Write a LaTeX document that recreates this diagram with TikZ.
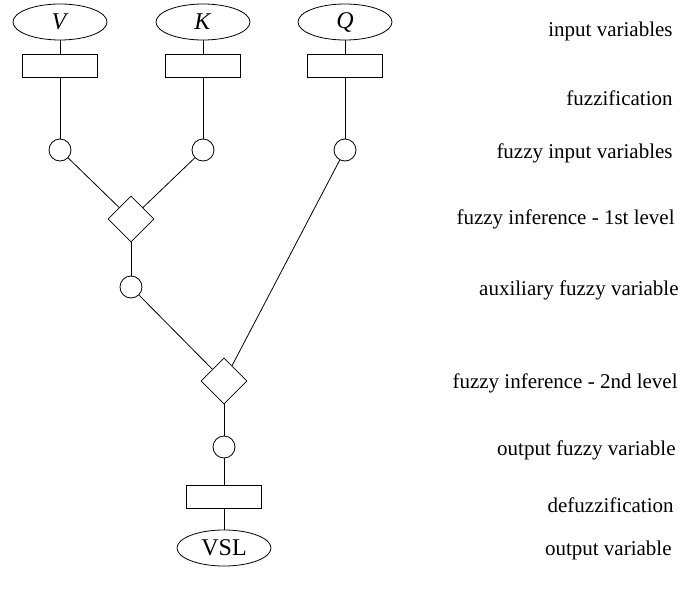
\documentclass[tikz,border=0pt]{standalone}
\usepackage{fontspec}
\setmainfont{Liberation Serif}
\usetikzlibrary{shapes.geometric}
\begin{document}
\begin{tikzpicture}[x=1pt,y=-1pt,line width=0.8pt,
    every node/.style={font=\fontsize{24}{28}\selectfont},
    var/.style={draw,ellipse,minimum width=94pt,minimum height=36pt,inner sep=0pt},
    fbox/.style={draw,rectangle,minimum width=75pt,minimum height=23pt,inner sep=0pt},
    fset/.style={draw,circle,minimum size=22pt,inner sep=0pt},
    rulebox/.style={draw,diamond,minimum width=46pt,minimum height=46pt,inner sep=0pt},
    lbl/.style={anchor=east,inner sep=0pt,font=\fontsize{21}{25}\selectfont}]
      \useasboundingbox (0,0) rectangle (681,592);

      % input side
      \node[var] (v) at (60, 22){\textit{V}};
      \node[var] (k) at (203, 22){\textit{K}};
      \node[var] (q) at (345, 22){\textit{Q}};
      \node[fbox] (fv) at (60, 66){};
      \node[fbox] (fk) at (203, 66){};
      \node[fbox] (fq) at (345, 66){};
      \node[fset] (cv) at (60, 150){};
      \node[fset] (ck) at (203, 150){};
      \node[fset] (cq) at (345, 150){};

      % inference
      \node[rulebox] (r1) at (131, 219){};
      \node[fset] (ca) at (131, 287){};
      \node[rulebox] (r2) at (224, 381){};

      % output side
      \node[fset] (co) at (224, 447){};
      \node[fbox] (dz) at (224, 497){};
      \node[var] (vsl) at (224, 548){VSL};

      \draw (v) to (fv);
      \draw (fv) to (cv);
      \draw (k) to (fk);
      \draw (fk) to (ck);
      \draw (q) to (fq);
      \draw (fq) to (cq);
      \draw (cv) to (r1);
      \draw (ck) to (r1);
      \draw (r1) to (ca);
      \draw (ca) to (r2);
      \draw (cq) to (r2);
      \draw (r2) to (co);
      \draw (co) to (dz);
      \draw (dz) to (vsl);

      \node[lbl] (l1) at (673, 31){input variables};
      \node[lbl] (l2) at (673, 98){fuzzification};
      \node[lbl] (l3) at (673, 153){fuzzy input variables};
      \node[lbl] (l4) at (675, 219){fuzzy inference - 1st level};
      \node[lbl] (l5) at (679, 290){auxiliary fuzzy variable};
      \node[lbl] (l6) at (678, 383){fuzzy inference - 2nd level};
      \node[lbl] (l7) at (676, 450){output fuzzy variable};
      \node[lbl] (l8) at (674, 505){defuzzification};
      \node[lbl] (l9) at (672, 550){output variable};
    \end{tikzpicture}
\end{document}
